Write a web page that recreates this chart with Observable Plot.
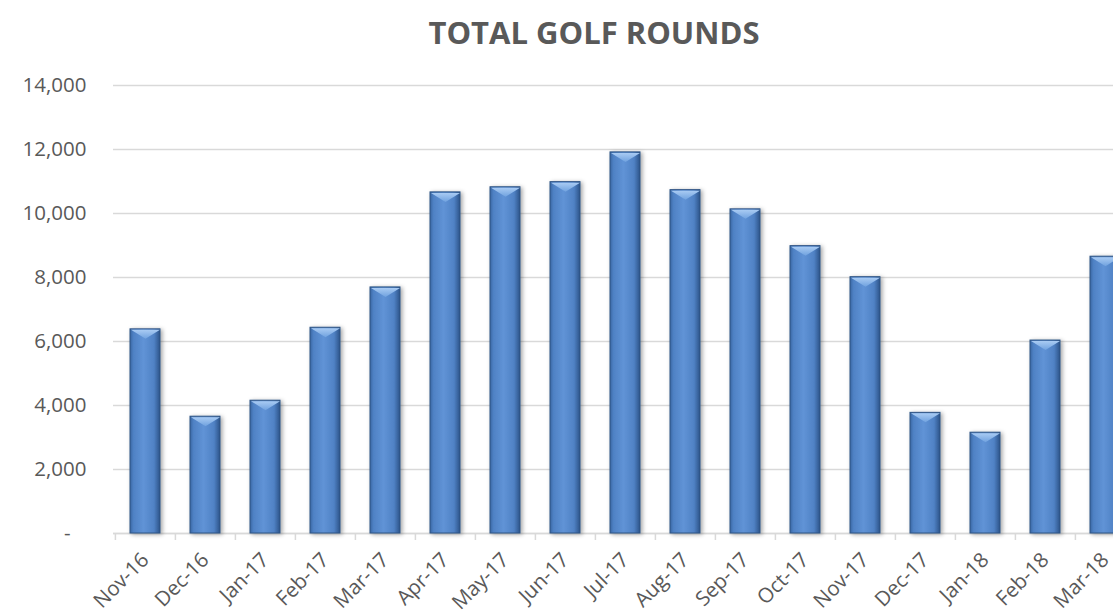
<!DOCTYPE html>
<html>
<head>
<meta charset="utf-8">
<script src="https://cdn.jsdelivr.net/npm/d3@7"></script>
<script src="https://cdn.jsdelivr.net/npm/@observablehq/plot@0.6"></script>
<style>
  html, body { margin: 0; padding: 0; background: #fff; overflow: hidden; }
  #wrap { position: relative; width: 1113px; height: 614px; overflow: hidden; }
  #title { position: absolute; top: 11px; left: 0; width: 1188px; text-align: center;
    font-family: "Open Sans", sans-serif; font-weight: 700; font-size: 31px; color: #595959; }
  #chart svg { display: block; overflow: hidden; }
</style>
</head>
<body>
<div id="wrap">
  <div id="chart"></div>
  <div id="title">TOTAL GOLF ROUNDS</div>
</div>
<script>
const months = ["Nov-16","Dec-16","Jan-17","Feb-17","Mar-17","Apr-17","May-17","Jun-17","Jul-17","Aug-17","Sep-17","Oct-17","Nov-17","Dec-17","Jan-18","Feb-18","Mar-18"];
const rounds = [6380, 3650, 4150, 6430, 7690, 10660, 10820, 10980, 11910, 10730, 10130, 8980, 8010, 3770, 3150, 6030, 8650];
const yTicks = [0, 2000, 4000, 6000, 8000, 10000, 12000, 14000];

const data = months.map((m, i) => ({month: m, value: rounds[i]}));

const bevel = {
  draw(ctx) {
    ctx.moveTo(-14.5, 0.5);
    ctx.lineTo(14.5, 0.5);
    ctx.lineTo(0, 9.5);
    ctx.closePath();
  }
};

const xRange = [113, 1136];
const step = (xRange[1] - xRange[0]) / months.length;

const chart = Plot.plot({
  width: 1113,
  height: 614,
  marginTop: 85,
  marginBottom: 81,
  marginLeft: 113,
  marginRight: 0,
  style: {fontFamily: "'Open Sans', sans-serif", fontSize: "20.5px", color: "#595959", background: "#fff"},
  x: {type: "band", domain: months, range: xRange, paddingInner: 0.5, paddingOuter: 0.25, label: null},
  y: {domain: [0, 14000], label: null},
  marks: [
    Plot.gridY(yTicks, {stroke: "#d9d9d9", strokeOpacity: 1, strokeWidth: 1.3}),
    Plot.ruleY([0], {stroke: "#d9d9d9", strokeWidth: 1.5}),
    Plot.axisX({tickSize: 7, tickFormat: () => "", dx: -step / 2, stroke: "#d9d9d9", strokeWidth: 1.5}),
    Plot.axisX({tickSize: 0, tickRotate: -45, tickPadding: 23, fill: "#595959", fontSize: 20.5}),
    Plot.axisY(yTicks, {tickSize: 0, tickPadding: 27, fill: "#595959", fontSize: 20.5,
      tickFormat: d => d === 0 ? "-   " : d3.format(",")(d)}),
    Plot.barY(data, {x: "month", y: "value", fill: "url(#barGrad)", stroke: "#2f5484", strokeWidth: 1}),
    Plot.dot(data, {x: "month", y: "value", symbol: bevel, r: 5, fill: "url(#bevelGrad)", stroke: "none"})
  ]
});

const svg = d3.select(chart);
const defs = svg.insert("defs", ":first-child");
const g1 = defs.append("linearGradient").attr("id", "barGrad").attr("x1", 0).attr("x2", 1).attr("y1", 0).attr("y2", 0);
[["0%", "#3a67a4"], ["12%", "#4f82c5"], ["45%", "#6093d6"], ["80%", "#5082c5"], ["100%", "#2d5389"]]
  .forEach(([o, c]) => g1.append("stop").attr("offset", o).attr("stop-color", c));
const g2 = defs.append("linearGradient").attr("id", "bevelGrad").attr("x1", 0).attr("x2", 0).attr("y1", 0).attr("y2", 1);
[["0%", "#a9cbf3"], ["100%", "#70a2df"]]
  .forEach(([o, c]) => g2.append("stop").attr("offset", o).attr("stop-color", c));
const f = defs.append("filter").attr("id", "shadow").attr("x", "-30%").attr("y", "-10%").attr("width", "160%").attr("height", "120%");
f.append("feDropShadow").attr("dx", 2).attr("dy", 1).attr("stdDeviation", 2.2).attr("flood-color", "#000").attr("flood-opacity", 0.35);
svg.selectAll("g[aria-label='bar']").attr("filter", "url(#shadow)");

document.getElementById("chart").appendChild(chart);
</script>
</body>
</html>
